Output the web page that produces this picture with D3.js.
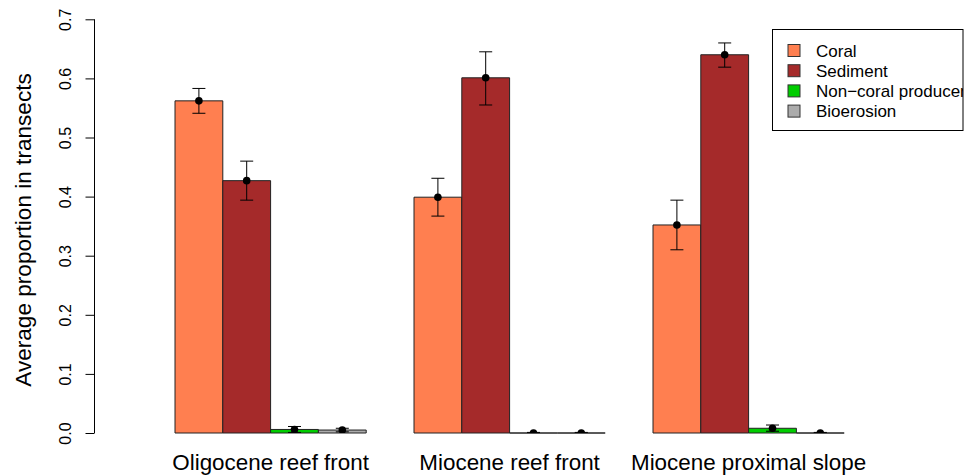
<!DOCTYPE html>
<html><head><meta charset="utf-8">
<script src="https://cdn.jsdelivr.net/npm/d3@7"></script>
<style>body{margin:0;background:#fff}svg{display:block}text{font-family:"Liberation Sans",Arial,sans-serif}</style>
</head><body>
<svg id="c" width="973" height="476"></svg>
<script>
const groups = ["Oligocene reef front", "Miocene reef front", "Miocene proximal slope"];
const series = ["Coral", "Sediment", "Non\u2212coral producer", "Bioerosion"];
const colors = ["#FF7F50", "#A52A2A", "#00CD00", "#ABABAB"];
const means = [
  [0.562, 0.427, 0.006, 0.005],
  [0.399, 0.601, 0.000, 0.000],
  [0.352, 0.640, 0.008, 0.000]
];
const upper = [
  [0.583, 0.460, 0.011, 0.008],
  [0.431, 0.645, 0.001, 0.001],
  [0.394, 0.660, 0.0135, 0.001]
];
const lower = [
  [0.541, 0.394, 0.001, 0.002],
  [0.367, 0.555, 0.000, 0.000],
  [0.310, 0.619, 0.003, 0.000]
];
const yTicks = [0, 0.1, 0.2, 0.3, 0.4, 0.5, 0.6, 0.7];

const svg = d3.select("#c");
const y = d3.scaleLinear().domain([0, 0.7]).range([433, 19.3]);
const u = 47.8, x0 = 175;
const x = d3.scaleLinear().domain([0, 1]).range([x0, x0 + u]);

const data = [];
groups.forEach((g, gi) => series.forEach((s, si) => data.push({gi, si, pos: gi * 5 + si, m: means[gi][si], hi: upper[gi][si], lo: lower[gi][si]})));

const defs = svg.append("defs");
defs.append("clipPath").attr("id", "plotclip").append("rect")
  .attr("x", 95).attr("y", 0).attr("width", 878).attr("height", y(0));
defs.append("clipPath").attr("id", "lc").append("rect")
  .attr("x", 772.5).attr("y", 29.5).attr("width", 190.5).attr("height", 101);

svg.selectAll("path.bar").data(data).enter().append("path")
  .attr("d", d => {
    const l = x(d.pos), r = x(d.pos + 1), t = y(d.m), b = y(0);
    return `M${l},${b}H${r}V${t}H${l}Z`;
  })
  .attr("fill", d => colors[d.si]).attr("stroke", "#222").attr("stroke-width", 1);

// error bars (clipped to plot region like R)
const cap = 6.5;
const eb = svg.append("g").attr("clip-path", "url(#plotclip)")
  .selectAll("g.eb").data(data).enter().append("g");
eb.append("line").attr("x1", d => x(d.pos + 0.5)).attr("x2", d => x(d.pos + 0.5))
  .attr("y1", d => y(d.hi)).attr("y2", d => y(d.lo)).attr("stroke", "#000");
eb.append("line").attr("x1", d => x(d.pos + 0.5) - cap).attr("x2", d => x(d.pos + 0.5) + cap)
  .attr("y1", d => y(d.hi)).attr("y2", d => y(d.hi)).attr("stroke", "#000");
eb.append("line").attr("x1", d => x(d.pos + 0.5) - cap).attr("x2", d => x(d.pos + 0.5) + cap)
  .attr("y1", d => y(d.lo)).attr("y2", d => y(d.lo)).attr("stroke", "#000");
eb.append("circle").attr("cx", d => x(d.pos + 0.5)).attr("cy", d => y(d.m)).attr("r", 3.8).attr("fill", "#000");

// y axis
const ax = svg.append("g").attr("transform", "translate(94.5,0)")
  .call(d3.axisLeft(y).tickValues(yTicks).tickSize(9).tickFormat(d3.format(".1f")));
ax.select(".domain").attr("d", `M0,${y(0)}V${y(0.7)}`).attr("stroke", "#000");
ax.selectAll(".tick line").attr("stroke", "#000");
ax.selectAll(".tick text").attr("font-size", 16).attr("fill", "#000")
  .attr("transform", "rotate(-90)").attr("x", 0).attr("y", -23.5).attr("dy", 0)
  .attr("text-anchor", "middle").attr("font-family", "Liberation Sans, Arial, sans-serif");

svg.append("text").attr("transform", `translate(31,230) rotate(-90)`)
  .attr("text-anchor", "middle").attr("font-size", 22.6).text("Average proportion in transects");

// group labels
svg.selectAll("text.gl").data(groups).enter().append("text")
  .attr("x", (d, i) => x(i * 5 + 2)).attr("y", 470)
  .attr("text-anchor", "middle").attr("font-size", 22.4).text(d => d);

// legend
const lg = svg.append("g");
lg.append("rect").attr("x", 772.5).attr("y", 29.5).attr("width", 190.5).attr("height", 101)
  .attr("fill", "#fff").attr("stroke", "#000");
const lgi = lg.append("g").attr("clip-path", "url(#lc)");
const li = lgi.selectAll("g.li").data(series).enter().append("g")
  .attr("transform", (d, i) => `translate(0,${50.5 + i * 20.2})`);
li.append("rect").attr("x", 788).attr("y", -6).attr("width", 12).attr("height", 12)
  .attr("fill", (d, i) => colors[i]).attr("stroke", "#333");
li.append("text").attr("x", 816).attr("y", 6).attr("font-size", 17).text(d => d);
</script>
</body></html>
